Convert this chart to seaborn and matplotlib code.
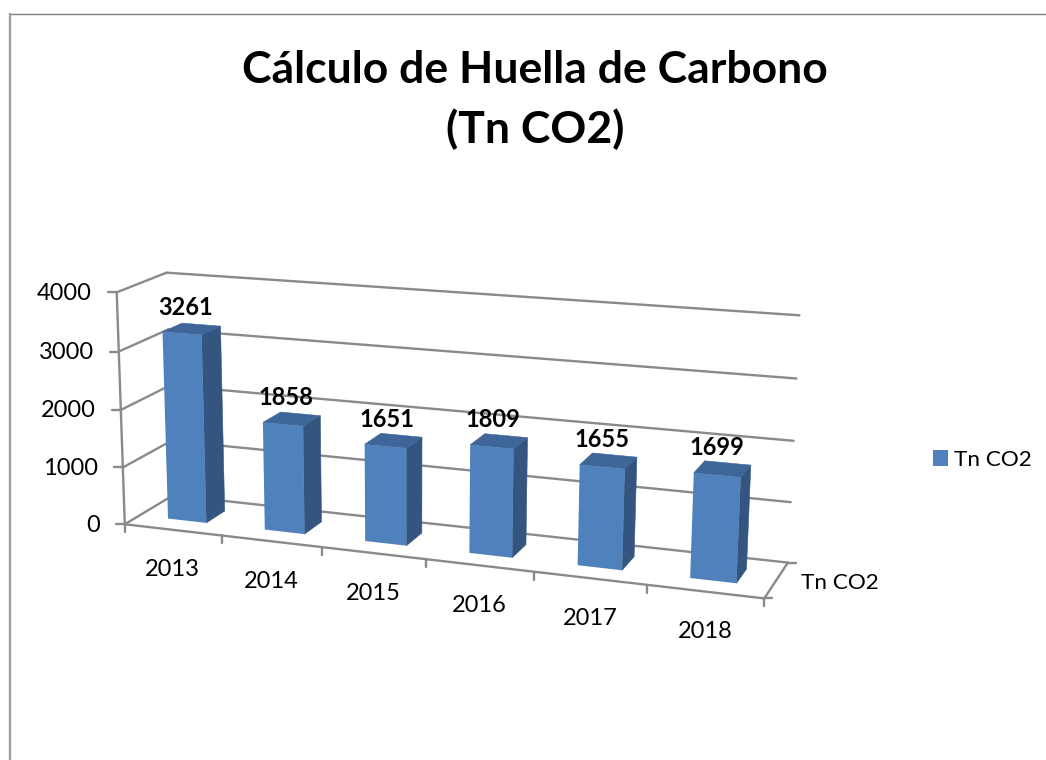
import numpy as np
import pandas as pd
import matplotlib
matplotlib.use("Agg")
import matplotlib.pyplot as plt
import matplotlib.transforms as mtransforms
import seaborn as sns

# ---- data ----
years = ["2013", "2014", "2015", "2016", "2017", "2018"]
co2 = [3261, 1858, 1651, 1809, 1655, 1699]
series_name = "Tn CO2"
value_ticks = [0, 1000, 2000, 3000, 4000]
title = "Cálculo de Huella de Carbono\n(Tn CO2)"

# ---- camera: box corners (category, value, depth) seen at these pixels ----
box_corners = [(0, 0, 0), (6, 0, 0), (0, 4000, 0), (0, 0, 1), (6, 0, 1), (0, 4000, 1), (6, 4000, 1)]
box_pixels = [(126.7, 525), (764, 598.3), (115, 291.7), (171, 494.6), (788.3, 562.7), (168.3, 273.3), (799.3, 315.3)]

FRONT_COL = "#4F81BD"
SIDE_COL = "#34557F"
TOP_COL = "#3E6698"
LINE_COL = "#8A8A8A"
Z0, Z1 = 0.3, 0.7


def fit_camera(pts, pix):
    rows = []
    for (x, y, z), (u, v) in zip(pts, pix):
        h = [x, y / 4000, z, 1]
        u, v = u / 1000, v / 1000
        rows.append(h + [0, 0, 0, 0] + [-u * c for c in h])
        rows.append([0, 0, 0, 0] + h + [-v * c for c in h])
    return np.linalg.svd(np.array(rows, float))[2][-1].reshape(3, 4)


CAM = fit_camera(box_corners, box_pixels)


def project(x, y, z):
    x, y, z = np.broadcast_arrays(np.asarray(x, float), np.asarray(y, float), np.asarray(z, float))
    h = np.stack([x, y / 4000, z, np.ones_like(x)], axis=-1)
    p = h @ CAM.T
    return p[..., 0] / p[..., 2] * 1000, p[..., 1] / p[..., 2] * 1000


class FrontPlane(mtransforms.Transform):
    """(category position, value) -> picture pixel on the bars' front plane."""
    input_dims = 2
    output_dims = 2
    is_separable = False
    has_inverse = False

    def transform_non_affine(self, values):
        values = np.asarray(values, float)
        u, v = project(values[:, 0] + 0.5, values[:, 1], Z0)
        return np.column_stack([u, v])


sns.set_theme(style="white")
plt.rcParams["font.family"] = ["Lato", "DejaVu Sans"]
TICK_FS = 17
NAME_FS = 16.2

fig = plt.figure(figsize=(10.46, 7.6), dpi=100, facecolor="white")
ax = fig.add_axes([0, 0, 1, 1])

df = pd.DataFrame({"year": years, "co2": co2})
sns.barplot(data=df, x="year", y="co2", color=FRONT_COL, saturation=1, width=0.4,
            label=series_name, ax=ax, legend=True, zorder=5)
ax.set_xlim(0, 1046)
ax.set_ylim(760, 0)
ax.set_axis_off()

line_kw = dict(color=LINE_COL, lw=1.7, solid_capstyle="round", zorder=1)


def seg(a, b):
    ua, va = project(*a)
    ub, vb = project(*b)
    ax.plot([ua, ub], [va, vb], **line_kw)


# walls and floor
for val in value_ticks:
    seg((0, val, 0), (0, val, 1))
    seg((0, val, 1), (6, val, 1))
    u, v = project(0, val, 0)
    ax.plot([u - 9, u], [v, v], **line_kw)
    ax.text(u - 25, v + 1, str(val), ha="right", va="center", fontsize=TICK_FS, color="black")
seg((0, 0, 0), (0, 4000, 0))
seg((0, 0, 0), (6, 0, 0))
seg((6, 0, 0), (6, 0, 1))
for i in range(7):
    u, v = project(i, 0, 0)
    ax.plot([u, u], [v, v + 8], **line_kw)
for z in (0, 1):
    u, v = project(6, 0, z)
    ax.plot([u, u + 8], [v, v], **line_kw)
for i, yr in enumerate(years):
    u, v = project(i + 0.5, 0, 0)
    ax.text(u, v + 40, yr, ha="center", va="center", fontsize=TICK_FS, color="black")
u, v = project(6, 0, 0.5)
ax.text(u + 25, v + 3, series_name, ha="left", va="center", fontsize=NAME_FS, color="black")

# bars: seaborn rectangles are projected; side and top faces follow them
bars = list(ax.patches)
front = FrontPlane() + ax.transData
for bar in bars:
    bar.set_transform(front)
    bar.set_clip_on(False)
    bar.set_edgecolor("none")
    xl = bar.get_x() + 0.5
    xr = xl + bar.get_width()
    h = bar.get_height()
    sx, sy = project([xr, xr, xr, xr], [0, h, h, 0], [Z0, Z0, Z1, Z1])
    ax.fill(sx, sy, facecolor=SIDE_COL, edgecolor=SIDE_COL, lw=0.4, zorder=4)
    tx, ty = project([xl, xr, xr, xl], [h, h, h, h], [Z0, Z0, Z1, Z1])
    ax.fill(tx, ty, facecolor=TOP_COL, edgecolor=TOP_COL, lw=0.4, zorder=4)
    cx, cy = project((xl + xr) / 2, h, (Z0 + Z1) / 2)
    ax.text(cx - 6, cy - 21.5, f"{h:.0f}", ha="center", va="center", fontsize=TICK_FS,
            fontweight="bold", color="black", zorder=6)

# title, legend, outer frame
ax.text(535, 100, title, ha="center", va="center", fontsize=32, fontweight="bold",
        color="black", linespacing=1.53, multialignment="center")

handles, labels = ax.get_legend_handles_labels()
ax.legend(handles, labels, loc="center left", bbox_to_anchor=(933 / 1046, 1 - 460 / 760),
          frameon=False, fontsize=NAME_FS, handlelength=0.67, handleheight=0.67,
          handletextpad=0.27, borderpad=0, borderaxespad=0, labelcolor="black")

ax.plot([9.5, 1046], [13.5, 13.5], color="#808080", lw=1.0, zorder=0, solid_capstyle="butt")
ax.plot([9.5, 9.5], [13, 760], color="#A0A0A0", lw=1.7, zorder=0, solid_capstyle="butt")

fig.savefig("out.png", dpi=100, facecolor="white")
